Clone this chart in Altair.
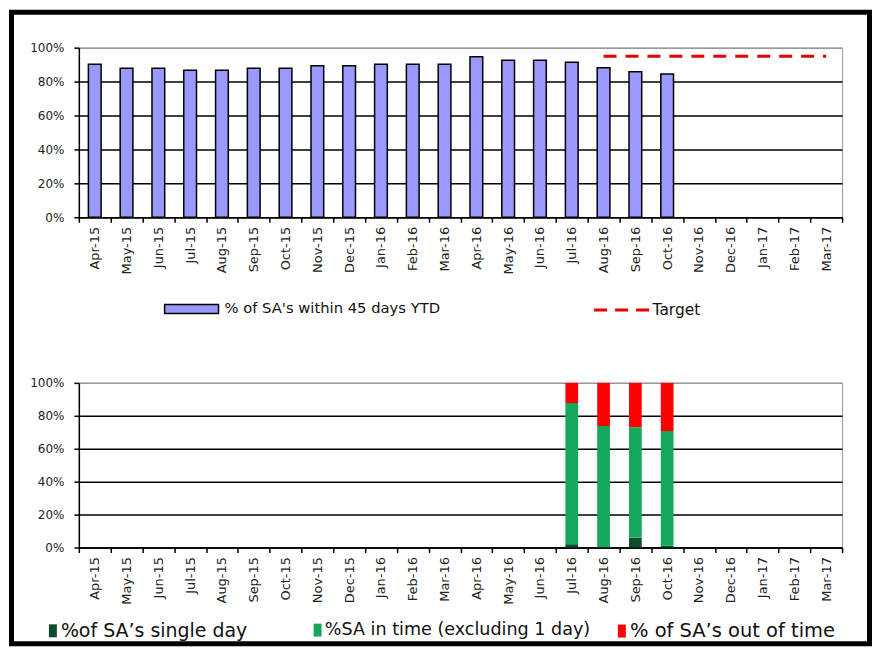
import altair as alt
import pandas as pd

months = ["Apr-15", "May-15", "Jun-15", "Jul-15", "Aug-15", "Sep-15", "Oct-15", "Nov-15",
          "Dec-15", "Jan-16", "Feb-16", "Mar-16", "Apr-16", "May-16", "Jun-16", "Jul-16",
          "Aug-16", "Sep-16", "Oct-16", "Nov-16", "Dec-16", "Jan-17", "Feb-17", "Mar-17"]

# top chart
ytd_months = months[:19]
ytd_values = [90.2, 87.9, 87.9, 86.7, 86.7, 87.9, 87.9, 89.3, 89.3, 90.2, 90.2, 90.2,
              94.7, 92.6, 92.6, 91.4, 88.1, 85.8, 84.4]
target_months = months[16:]
target_values = [95, 95, 95, 95, 95, 95, 95, 95]

# bottom chart
stack_months = ["Jul-16", "Aug-16", "Sep-16", "Oct-16"]
single_day = [2.0, 0.3, 6.0, 1.0]
in_time = [85.7, 73.5, 67.1, 69.7]
out_of_time = [12.3, 26.2, 26.9, 29.3]

series_names = ["%of SA\u2019s single day", "%SA in time (excluding 1 day)", "% of SA\u2019s out of time"]
series_colors = ["#0B4D2C", "#14A85A", "#FF0000"]
ytd_name = "% of SA's within 45 days YTD"
target_name = "Target"

LABEL_FONT = "DejaVu Sans"

df_ytd = pd.DataFrame({"month": ytd_months, "value": ytd_values, "series": ytd_name})
df_target = pd.DataFrame({"month": target_months, "value": target_values, "series": target_name})

rows = []
for i, m in enumerate(stack_months):
    base = 0.0
    for name, vals in zip(series_names, [single_day, in_time, out_of_time]):
        rows.append({"month": m, "series": name, "y0": base, "y1": base + vals[i]})
        base += vals[i]
df_stack = pd.DataFrame(rows)

x_scale = alt.Scale(domain=months, paddingInner=0, paddingOuter=0)


def x_axis():
    return alt.Axis(title=None, labelAngle=-90, tickBand="extent", labelFont=LABEL_FONT,
                    labelFontSize=13, labelColor="#222", labelPadding=4, tickSize=5,
                    tickColor="black", domainColor="black", domainWidth=1.5, tickWidth=1.5,
                    grid=False, labelAlign="right", labelBaseline="middle", labelOverlap=False)


def y_axis():
    return alt.Axis(title=None, values=[0, 20, 40, 60, 80, 100], labelOverlap=False,
                    labelExpr="datum.value + '%'", labelFont=LABEL_FONT, labelFontSize=12,
                    labelColor="#222", labelPadding=10, tickSize=5, tickColor="black",
                    tickWidth=1.5, domainColor="black", domainWidth=1.5,
                    grid=True, gridWidth=1.5,
                    gridColor=alt.condition("datum.value >= 100", alt.value("#999999"), alt.value("black")))


W = 765
H_TOP = 170
H_BOT = 165
y_scale = alt.Scale(domain=[0, 100], nice=False)

bars = alt.Chart(df_ytd).mark_bar(width={"band": 0.4}, stroke="black", strokeWidth=1.5).encode(
    x=alt.X("month:N", scale=x_scale, axis=x_axis(), sort=months),
    y=alt.Y("value:Q", scale=y_scale, axis=y_axis()),
    fill=alt.Fill("series:N", scale=alt.Scale(domain=[ytd_name], range=["#9999FF"]),
                  legend=alt.Legend(title=None, orient="none", legendX=85, legendY=234,
                                    symbolType="M-1,-0.17H1V0.17H-1Z", symbolSize=2916,
                                    symbolStrokeColor="black", symbolStrokeWidth=1.5,
                                    symbolOpacity=1, labelFont=LABEL_FONT, labelFontSize=14.8,
                                    labelColor="#111", labelOffset=5, padding=0, labelLimit=500)),
)

target = alt.Chart(df_target).mark_line(strokeDash=[13, 9], strokeWidth=3).encode(
    x=alt.X("month:N", scale=x_scale, axis=x_axis(), sort=months),
    y=alt.Y("value:Q", scale=y_scale, axis=y_axis()),
    stroke=alt.Stroke("series:N", scale=alt.Scale(domain=[target_name], range=["#E60000"]),
                      legend=alt.Legend(title=None, orient="none", legendX=515, legendY=234,
                                        symbolType="stroke", symbolSize=3025,
                                        symbolStrokeWidth=3, symbolDash=[13, 8],
                                        labelFont=LABEL_FONT, labelFontSize=15.5,
                                        labelColor="#111", labelOffset=2, padding=0, labelLimit=500)),
)

frame = alt.Chart(pd.DataFrame({"f": [0]})).mark_rect(
    fill="transparent", stroke="black", strokeWidth=5
).encode(
    x=alt.value(-67.5), x2=alt.value(792.5), y=alt.value(-35.5), y2=alt.value(597.5)
)

top = alt.layer(bars, target, frame).resolve_scale(fill="independent", stroke="independent").properties(
    width=W, height=H_TOP)

legend_x = [-38, 228, 532]
legend_fs = [19, 17.6, 19.5]
layers = []
for name, color, lx, fs in zip(series_names, series_colors, legend_x, legend_fs):
    layers.append(
        alt.Chart(df_stack).transform_filter(alt.datum.series == name).mark_bar(
            width={"band": 0.4}).encode(
            x=alt.X("month:N", scale=x_scale, axis=x_axis(), sort=months),
            y=alt.Y("y0:Q", scale=y_scale, axis=y_axis()),
            y2="y1:Q",
            fill=alt.Fill("series:N", scale=alt.Scale(domain=[name], range=[color]),
                          legend=alt.Legend(title=None, orient="none", legendX=lx, legendY=239,
                                            symbolType="M-0.23,-1H1V1H-0.23Z", symbolSize=169,
                                            symbolStrokeWidth=0, symbolOpacity=1,
                                            labelFont=LABEL_FONT, labelFontSize=fs,
                                            labelColor="#111", labelOffset=1, padding=0,
                                            labelLimit=500)),
        )
    )

bottom = alt.layer(*layers).resolve_scale(fill="independent").properties(width=W, height=H_BOT)

chart = alt.vconcat(top, bottom, spacing=166, bounds="flush").resolve_scale(
    fill="independent", stroke="independent"
).properties(padding=0, background="white").configure_view(
    stroke="#999999", strokeWidth=1
)

chart.save("out.html", embed_options={"renderer": "svg", "actions": False})
